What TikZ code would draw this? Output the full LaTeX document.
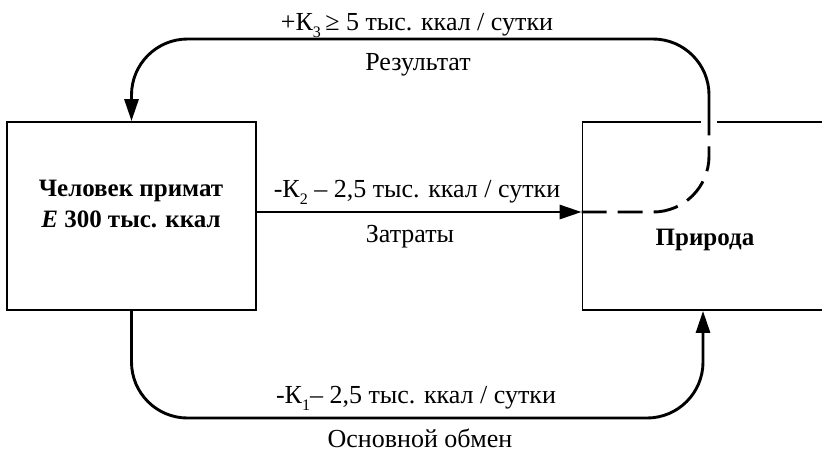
\documentclass[tikz,border=0pt]{standalone}
\usepackage{fontspec}
\setmainfont{Liberation Serif}
\usetikzlibrary{arrows.meta,positioning}

\newcommand{\kidx}[1]{\raisebox{-0.6ex}{\fontsize{8}{8}\selectfont #1}}

\tikzset{
  caja/.style={draw, line width=0.9pt, minimum width=124.5pt, minimum height=94pt, inner sep=0pt},
  flecha/.style={line width=1.45pt, rounded corners=28pt, -{Triangle[length=11pt,width=7pt]}},
  flechadash/.style={line width=1.45pt, rounded corners=28pt, dash pattern=on 12.5pt off 5.5pt},
  etiqueta/.style={font=\fontsize{13}{15}\selectfont, inner sep=0pt, anchor=base},
  etiquetab/.style={font=\fontsize{12.5}{15}\selectfont\bfseries, inner sep=0pt, anchor=base},
}

\begin{document}
\begin{tikzpicture}[x=0.5pt,y=-0.5pt]
    % Marco con las proporciones de la figura.
    \useasboundingbox (0,0) rectangle (822,452);
    \clip (0,0) rectangle (822,452);

    % Los dos bloques: el hombre y la naturaleza.
    \node[caja] (hombre) at (131.5,216) {};
    \node[caja, minimum width=122.5pt] (natura) at (705,216) {};
    \node[etiquetab] (thombreA) at (131,196) {Человек примат};
    \node[etiquetab] (thombreB) at (131,227) {\textit{E} 300 тыс. ккал};
    \node[etiquetab] (tnatura) at (705,245) {Природа};

    % Puntos auxiliares para los lazos de arriba y de abajo.
    \coordinate (cruce) at ([xshift=2pt]natura.north);
    \coordinate (arriba) at (0,39);
    \coordinate (abajo) at (0,418);

    % Hueco blanco en el borde donde la flecha lo cruza.
    \fill[white] ([xshift=-3.8pt,yshift=-1pt]cruce) rectangle ([xshift=3.8pt,yshift=1pt]cruce);

    % Resultado, gastos y metabolismo basal.
    \draw[flechadash] ([yshift=2pt]natura.west) -- ([yshift=2pt]natura.west -| cruce) -- (cruce);
    \draw[flecha] (cruce) -- (cruce |- arriba) -- (hombre.north |- arriba) -- (hombre.north);
    \draw[flecha] ([yshift=2pt]hombre.east) -- ([yshift=2pt]natura.west);
    \draw[flecha] (hombre.south) -- (hombre.south |- abajo) -- ([xshift=-1pt]natura.south |- abajo) -- ([xshift=-1pt]natura.south);

    % Rótulos de las flechas.
    \node[etiqueta] (resA) at (417,30) {+К\kidx{3}\,≥ 5 тыс. ккал / сутки};
    \node[etiqueta] (resB) at (418,70) {Результат};
    \node[etiqueta] (gasA) at (417,197) {-К\kidx{2} – 2,5 тыс. ккал / сутки};
    \node[etiqueta] (gasB) at (410,242) {Затраты};
    \node[etiqueta] (basA) at (416,403) {-К\kidx{1}– 2,5 тыс. ккал / сутки};
    \node[etiqueta] (basB) at (420,447) {Основной обмен};
\end{tikzpicture}
\end{document}
